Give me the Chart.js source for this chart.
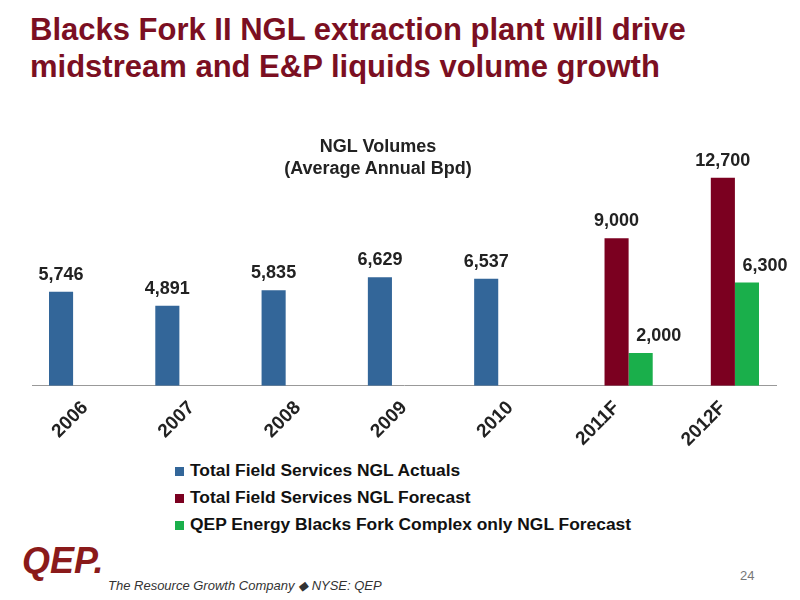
<!DOCTYPE html>
<html>
<head>
<meta charset="utf-8">
<script src="https://cdn.jsdelivr.net/npm/chart.js@4"></script>
<style>
  body { margin: 0; width: 800px; height: 600px; background: #fff; font-family: "Liberation Sans", Arial, sans-serif; position: relative; overflow: hidden; }
  #title { position: absolute; left: 30px; top: 11px; color: #7b0f22; font-size: 31px; font-weight: bold; line-height: 37px; }
  #sub { position: absolute; left: 228px; width: 300px; top: 135px; text-align: center; font-size: 18px; font-weight: bold; line-height: 22px; color: #222; }
  #wrap { position: absolute; left: 0; top: 140px; width: 800px; height: 314px; }
  #legend { position: absolute; left: 175px; top: 457px; font-size: 17.4px; font-weight: bold; color: #111; line-height: 27px; }
  #legend span.sw { display: inline-block; width: 9px; height: 9px; margin-right: 6px; }
  #logo { position: absolute; left: 22px; top: 540px; color: #8a1a1a; font-size: 36px; font-weight: bold; font-style: italic; }
  #tag { position: absolute; left: 108px; top: 578px; font-size: 13px; font-style: italic; color: #333; }
  #page { position: absolute; left: 740px; top: 568px; font-size: 13px; color: #777; }
</style>
</head>
<body>
<div id="title">Blacks Fork II NGL extraction plant will drive<br>midstream and E&amp;P liquids volume growth</div>
<div id="wrap"><canvas id="chart"></canvas></div>
<div id="sub">NGL Volumes<br>(Average Annual Bpd)</div>
<div id="legend"></div>
<div id="logo">QEP.</div>
<div id="tag">The Resource Growth Company ◆ NYSE: QEP</div>
<div id="page">24</div>
<script>
const categories = ['2006', '2007', '2008', '2009', '2010', '2011F', '2012F'];
const actuals = [5746, 4891, 5835, 6629, 6537, null, null];
const forecast = [null, null, null, null, null, 9000, 12700];
const blacksFork = [null, null, null, null, null, 2000, 6300];
const seriesNames = ['Total Field Services NGL Actuals', 'Total Field Services NGL Forecast', 'QEP Energy Blacks Fork Complex only NGL Forecast'];
const colors = ['#336699', '#7b0020', '#1aaf4b'];

document.getElementById('legend').innerHTML = seriesNames.map((n, i) =>
  `<div><span class="sw" style="background:${colors[i]}"></span>${n}</div>`).join('');

const valueLabels = {
  id: 'valueLabels',
  afterDatasetsDraw(chart) {
    const ctx = chart.ctx;
    ctx.save();
    ctx.font = 'bold 18px "Liberation Sans", Arial, sans-serif';
    ctx.fillStyle = '#222';
    ctx.textAlign = 'center';
    ctx.textBaseline = 'bottom';
    chart.data.datasets.forEach((ds, di) => {
      chart.getDatasetMeta(di).data.forEach((bar, i) => {
        const v = ds.data[i];
        if (v == null) return;
        const dx = di === 2 ? 18 : 0;
        ctx.fillText(v.toLocaleString('en-US'), bar.x + dx, bar.y - 8);
      });
    });
    ctx.restore();
  }
};

new Chart(document.getElementById('chart'), {
  type: 'bar',
  data: {
    labels: categories,
    datasets: [
      { label: seriesNames[0], data: actuals, backgroundColor: colors[0] },
      { label: seriesNames[1], data: forecast, backgroundColor: colors[1] },
      { label: seriesNames[2], data: blacksFork, backgroundColor: colors[2] }
    ]
  },
  options: {
    responsive: true,
    maintainAspectRatio: false,
    animation: false,
    categoryPercentage: 0.68,
    barPercentage: 1,
    layout: { padding: { left: 32, right: 24, top: 0 } },
    plugins: { legend: { display: false }, tooltip: { enabled: false } },
    scales: {
      x: {
        grid: { display: false, drawTicks: true },
        border: { color: '#999' },
        ticks: { maxRotation: 45, minRotation: 45, color: '#222', font: { size: 19, weight: 'bold', family: '"Liberation Sans", Arial' } }
      },
      y: { display: false, min: 0, max: 15000 }
    }
  },
  plugins: [valueLabels]
});
</script>
</body>
</html>
